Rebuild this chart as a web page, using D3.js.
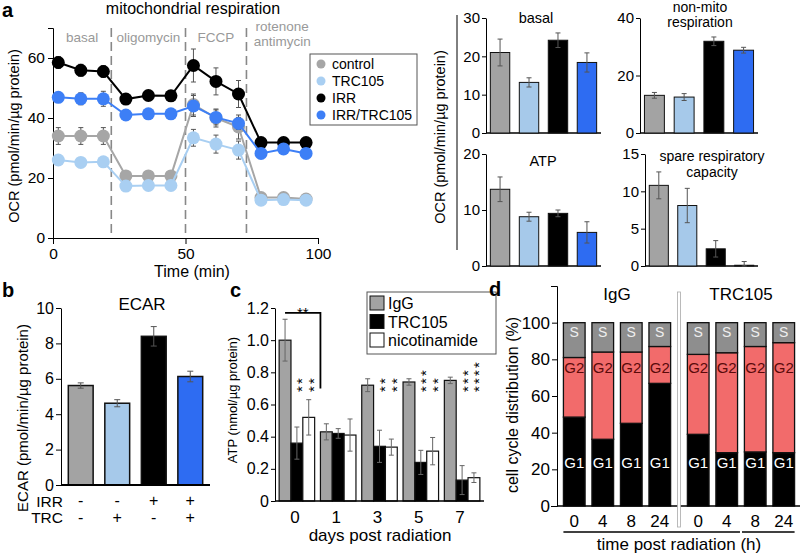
<!DOCTYPE html>
<html><head><meta charset="utf-8">
<script src="https://cdn.jsdelivr.net/npm/d3@7"></script>
<style>body{margin:0;background:#fff} text{font-family:"Liberation Sans",Arial,sans-serif}</style>
</head><body><svg id="c" width="800" height="555"></svg>
<script>
// ---------- DATA ----------
// panel a (time course)
const times = [2,10.5,19,27.5,36,44.5,53,61.5,70,78.5,87,95.5];
const seriesNames = ["control","TRC105","IRR","IRR/TRC105"];
const ocrControl = [34,34,34,20.7,20.7,20.7,44.5,40,37,13.5,13.5,13];
const ocrControlErr = [2.8,2.8,2.8,1.2,1.2,1.2,3.5,3,4,1,1,1];
const ocrTRC = [26,25.2,25.4,17.3,17.5,17.5,33.4,31.3,29.3,12.6,12.8,12.6];
const ocrTRCErr = [1.5,1,1,1,1,1,2.8,3,3,1,1,1];
const ocrIRR = [58.5,55.9,55.5,46.3,47.5,47.4,57.5,52.2,48,31.8,31.8,31.8];
const ocrIRRErr = [2,2,2,1.5,1,1.5,5.5,4.5,4.5,1,1,1];
const ocrIRRTRC = [46.9,46.4,46.4,41,41.4,41.4,44,40.2,38.2,28.2,29.7,28.2];
const ocrIRRTRCErr = [1.5,2,2.5,1,1,1,3.5,2.5,2,1,1,1];
const phaseBounds = [22,50,73];
const phaseLabels = [["basal"],["oligomycin"],["FCCP"],["rotenone","antimycin"]];
const timeTicks = [0,50,100];
const ocrTicks = [0,20,40,60];
// panel a (summary bars)
const basal = [21.0,13.2,24.2,18.4], basalErr = [3.5,1.2,1.9,2.5];
const nonMito = [13.1,12.5,31.9,28.8], nonMitoErr = [1,1.2,1.5,1];
const atpOcr = [13.7,8.8,9.4,6.0], atpOcrErr = [2.2,0.8,0.6,1.9];
const spare = [10.8,8.1,2.3,0.1], spareErr = [1.8,2.3,1.1,0.5];
// panel b
const ecar = [5.62,4.62,8.4,6.13], ecarErr = [0.15,0.2,0.55,0.3];
const irrSigns = ["-","-","+","+"], trcSigns = ["-","+","-","+"];
// panel c
const days = ["0","1","3","5","7"];
const cGroups = ["IgG","TRC105","nicotinamide"];
const atpIgG = [1.0,0.43,0.72,0.74,0.75], atpIgGErr = [0.13,0.05,0.04,0.02,0.02];
const atpTRC = [0.36,0.42,0.34,0.24,0.13], atpTRCErr = [0.1,0.03,0.1,0.075,0.09];
const atpNic = [0.52,0.41,0.335,0.31,0.145], atpNicErr = [0.11,0.1,0.05,0.085,0.03];
const starsTRC = ["**","","**","***","***"], starsNic = ["**","","**","**","****"];
const atpTicks = [0,0.2,0.4,0.6,0.8,1.0,1.2];
// panel d
const dGroups = ["IgG","TRC105"];
const hours = ["0","4","8","24"];
const g1IgG = [48.5,36.4,45.1,66.9], g2IgG = [32.5,47.6,38.9,20.1], sIgG = [19,16,16,13];
const g1TRC = [39.1,29.1,29.5,29.1], g2TRC = [43.6,54.5,57.5,60], sTRC = [17.3,16.4,13,10.9];
const pctTicks = [0,20,40,60,80,100];

// ---------- HELPERS ----------
const svg = d3.select("#c");
svg.append("rect").attr("width",800).attr("height",555).attr("fill","#fff");
const FONT = '"Liberation Sans", Arial, sans-serif';
function txt(g,x,y,s,size,o={}){
  const t=g.append("text").attr("x",x).attr("y",y).text(s).attr("font-size",size)
    .attr("fill",o.fill||"#000").attr("text-anchor",o.anchor||"middle");
  if(o.bold) t.attr("font-weight","bold");
  if(o.rotate) t.attr("transform",`rotate(-90,${x},${y})`);
  return t;
}
function styleAxis(g,size){
  g.attr("font-family",FONT);
  g.selectAll("text").attr("font-size",size).attr("fill","#000");
  g.selectAll("path,line").attr("stroke","#000");
}
function errBar(g,x,y1,y2,w,color="#555"){
  g.append("line").attr("x1",x).attr("x2",x).attr("y1",y1).attr("y2",y2).attr("stroke",color);
  g.append("line").attr("x1",x-w/2).attr("x2",x+w/2).attr("y1",y1).attr("y2",y1).attr("stroke",color);
  g.append("line").attr("x1",x-w/2).attr("x2",x+w/2).attr("y1",y2).attr("y2",y2).attr("stroke",color);
}
const lineColors = ["#a6a6a6","#a9cff2","#000000","#3d7ff6"];
const barColors = ["#a3a3a3","#a6c9ea","#000000","#2e6cf2"];

// ---------- PANEL a : time course ----------
const gA = svg.append("g");
txt(gA,2,17,"a",20,{bold:true,anchor:"start"});
txt(gA,193,14,"mitochondrial respiration",16);
const xA = d3.scaleLinear().domain([0,100]).range([53,318]);
const yA = d3.scaleLinear().domain([0,70]).range([238,28]);
gA.append("g").attr("transform","translate(0,238)")
  .call(d3.axisBottom(xA).tickValues(timeTicks).tickSizeOuter(0).tickPadding(4)).call(styleAxis,15.5);
gA.append("g").attr("transform","translate(53,0)")
  .call(d3.axisLeft(yA).tickValues(ocrTicks).tickSize(5).tickPadding(3)).call(styleAxis,15.5);
txt(gA,192,277,"Time (min)",16);
txt(gA,19,136,"OCR (pmol/min/µg protein)",14.5,{rotate:true});
phaseBounds.forEach(b=>{
  gA.append("line").attr("x1",xA(b)).attr("x2",xA(b)).attr("y1",yA(70)).attr("y2",yA(0))
    .attr("stroke","#888").attr("stroke-width",1.6).attr("stroke-dasharray","9,5");
});
const edges=[0,...phaseBounds,100];
phaseLabels.forEach((lines,i)=>{
  const cx=xA((edges[i]+edges[i+1])/2);
  if(lines.length===1) txt(gA,cx,42,lines[0],13.5,{fill:"#999"});
  else { txt(gA,cx,31,lines[0],13.5,{fill:"#999"}); txt(gA,cx,46,lines[1],13.5,{fill:"#999"}); }
});
const seriesVals=[ocrControl,ocrTRC,ocrIRR,ocrIRRTRC];
const seriesErrs=[ocrControlErr,ocrTRCErr,ocrIRRErr,ocrIRRTRCErr];
const lineGen=d3.line().x((d,i)=>xA(times[i])).y(d=>yA(d));
seriesVals.forEach((vals,s)=>{
  const g=gA.append("g");
  vals.forEach((v,i)=>errBar(g,xA(times[i]),yA(v+seriesErrs[s][i]),yA(v-seriesErrs[s][i]),5,"#555"));
  g.append("path").attr("d",lineGen(vals)).attr("fill","none").attr("stroke",lineColors[s]).attr("stroke-width",2);
  g.selectAll("circle").data(vals).join("circle").attr("cx",(d,i)=>xA(times[i])).attr("cy",d=>yA(d))
    .attr("r",6.5).attr("fill",lineColors[s]);
});
// legend
const lgA=gA.append("g");
lgA.append("rect").attr("x",310).attr("y",54).attr("width",107).attr("height",71).attr("fill","#fff").attr("stroke","#555");
seriesNames.forEach((n,i)=>{
  const y=64+i*17;
  lgA.append("circle").attr("cx",321).attr("cy",y).attr("r",4.5).attr("fill",lineColors[i]);
  txt(lgA,332,y+5,n,14,{anchor:"start"});
});

// ---------- PANEL a : summary bars ----------
const gR=svg.append("g");
txt(gR,445,137,"OCR (pmol/min/µg protein)",14.5,{rotate:true});
gR.append("line").attr("x1",457).attr("x2",457).attr("y1",15).attr("y2",250).attr("stroke","#000");
function smallBar(vals,errs,x0,x1,y0,y1,ymax,ticks,titles,titleX,titleYs){
  const g=gR.append("g");
  const x=d3.scaleBand().domain(seriesNames).range([x0,x1]).paddingInner(0.33).paddingOuter(0.15);
  const y=d3.scaleLinear().domain([0,ymax]).range([y0,y1]);
  g.append("g").attr("transform",`translate(${x0},0)`)
    .call(d3.axisLeft(y).tickValues(ticks).tickSize(4).tickSizeOuter(0).tickPadding(2)).call(styleAxis,15);
  g.append("line").attr("x1",x0).attr("x2",x1).attr("y1",y0).attr("y2",y0).attr("stroke","#000").attr("stroke-width",1.3);
  seriesNames.forEach((n,i)=>{
    g.append("rect").attr("x",x(n)).attr("y",y(vals[i])).attr("width",x.bandwidth()).attr("height",y0-y(vals[i]))
      .attr("fill",barColors[i]).attr("stroke","#111").attr("stroke-width",1);
    errBar(g,x(n)+x.bandwidth()/2,y(vals[i]+errs[i]),y(Math.max(0,vals[i]-errs[i])),5,"#555");
  });
  titles.forEach((t,k)=>txt(g,titleX,titleYs[k],t,titles.length>1?14:14.5));
}
smallBar(basal,basalErr,486,601,133,18,30,[0,10,20,30],["basal"],536,[23]);
smallBar(nonMito,nonMitoErr,640,758,133,18,40,[0,20,40],["non-mito","respiration"],700,[12,27]);
smallBar(atpOcr,atpOcrErr,486,601,266,154,20,[0,10,20],["ATP"],543,[166]);
smallBar(spare,spareErr,645,758,266,154,15,[0,5,10,15],["spare respiratory","capacity"],712,[161,177]);

// ---------- PANEL b ----------
const gB=svg.append("g");
txt(gB,2,297,"b",20,{bold:true,anchor:"start"});
txt(gB,142,310,"ECAR",17);
txt(gB,28,418,"ECAR (pmol/min/µg protein)",15,{rotate:true});
const xB=d3.scaleBand().domain(seriesNames).range([61,210]).paddingInner(0.32).paddingOuter(0.2);
const yB=d3.scaleLinear().domain([0,10]).range([485,308]);
gB.append("g").attr("transform","translate(61,0)")
  .call(d3.axisLeft(yB).tickValues([0,2,4,6,8,10]).tickSize(5).tickSizeOuter(0).tickPadding(2)).call(styleAxis,16);
seriesNames.forEach((n,i)=>{
  gB.append("rect").attr("x",xB(n)).attr("y",yB(ecar[i])).attr("width",xB.bandwidth()).attr("height",485-yB(ecar[i]))
    .attr("fill",barColors[i]).attr("stroke","#111").attr("stroke-width",1.5);
  errBar(gB,xB(n)+xB.bandwidth()/2,yB(ecar[i]+ecarErr[i]),yB(ecar[i]-ecarErr[i]),6,"#555");
  txt(gB,xB(n)+xB.bandwidth()/2,506,irrSigns[i],16);
  txt(gB,xB(n)+xB.bandwidth()/2,523,trcSigns[i],16);
});
gB.append("line").attr("x1",61).attr("x2",210).attr("y1",485).attr("y2",485).attr("stroke","#000").attr("stroke-width",2);
txt(gB,63,507,"IRR",15.5,{anchor:"end"});
txt(gB,63,523,"TRC",15.5,{anchor:"end"});

// ---------- PANEL c ----------
const gC=svg.append("g");
txt(gC,230,297,"c",20,{bold:true,anchor:"start"});
const xC=d3.scaleBand().domain(days).range([275,484]).paddingInner(0.14).paddingOuter(0.1);
const xCi=d3.scaleBand().domain(cGroups).range([0,xC.bandwidth()]);
const yC=d3.scaleLinear().domain([0,1.2]).range([501,308]);
gC.append("g").attr("transform","translate(275,0)")
  .call(d3.axisLeft(yC).tickValues(atpTicks).tickFormat(d=>d===0?"0":d3.format(".1f")(d)).tickSize(4).tickSizeOuter(0).tickPadding(2))
  .call(styleAxis,16);
txt(gC,237,400,"ATP (nmol/µg protein)",13,{rotate:true});
const cVals=[atpIgG,atpTRC,atpNic], cErrs=[atpIgGErr,atpTRCErr,atpNicErr];
const cFill=["#a3a3a3","#000","#fff"];
days.forEach((d,i)=>{
  cGroups.forEach((grp,k)=>{
    const v=cVals[k][i], x=xC(d)+xCi(grp);
    gC.append("rect").attr("x",x).attr("y",yC(v)).attr("width",xCi.bandwidth()).attr("height",501-yC(v))
      .attr("fill",cFill[k]).attr("stroke","#111").attr("stroke-width",1.2);
    errBar(gC,x+xCi.bandwidth()/2,yC(v+cErrs[k][i]),yC(v-cErrs[k][i]),5,"#666");
  });
  txt(gC,xC(d)+xC.bandwidth()/2-2,523,d,17);
  [[starsTRC,"TRC105"],[starsNic,"nicotinamide"]].forEach(([arr,grp])=>{
    const s=arr[i]; if(!s) return;
    const cx=xC(d)+xCi(grp)+xCi.bandwidth()/2+2;
    // vertical column of stars, bottom-aligned
    gC.append("text").attr("transform",`translate(${cx+8.5},392) rotate(-90)`)
      .attr("text-anchor","start").attr("font-size",15).attr("fill","#000").attr("opacity",0.99)
      .attr("letter-spacing",2.2).text(s);
  });
});
gC.append("line").attr("x1",275).attr("x2",484).attr("y1",501).attr("y2",501).attr("stroke","#000").attr("stroke-width",1.5);
txt(gC,380,541,"days post radiation",17);
// bracket
const bx0=xC("0")+xCi("IgG")+xCi.bandwidth()/2, bx1=xC("1");
gC.append("path").attr("d",`M${bx0},${yC(1.17)}H${bx1}V${yC(0.7)}`).attr("fill","none").attr("stroke","#000").attr("stroke-width",1.8);
txt(gC,(bx0+bx1)/2,318,"**",15);
// legend c
const lgC=gC.append("g");
lgC.append("rect").attr("x",367).attr("y",292).attr("width",129).attr("height",62).attr("fill","#fff").attr("stroke","#555");
cGroups.forEach((n,i)=>{
  const y=303+i*18.5;
  lgC.append("rect").attr("x",370).attr("y",y-7).attr("width",14).attr("height",14).attr("fill",cFill[i]).attr("stroke","#111");
  txt(lgC,388,y+6,n,16,{anchor:"start"});
});

// ---------- PANEL d ----------
const gD=svg.append("g");
txt(gD,489,296,"d",20,{bold:true,anchor:"start"});
const xD=d3.scaleBand().domain(dGroups).range([560,798]).paddingInner(0.08).paddingOuter(0);
const xDi=d3.scaleBand().domain(hours).range([0,xD.bandwidth()]).paddingInner(0.24).paddingOuter(0.12);
const yD=d3.scaleLinear().domain([0,120]).range([506,286]);
gD.append("g").attr("transform","translate(557,0)")
  .call(d3.axisLeft(yD).tickValues(pctTicks).tickSize(5).tickSizeOuter(6).tickPadding(2)).call(styleAxis,17);
txt(gD,518,405,"cell cycle distribution (%)",16,{rotate:true});
const dData={IgG:[g1IgG,g2IgG,sIgG],TRC105:[g1TRC,g2TRC,sTRC]};
const segFill=["#000","#f26b6b","#8e8e8e"];
dGroups.forEach(grp=>{
  const [g1,g2,s]=dData[grp];
  hours.forEach((h,i)=>{
    const x=xD(grp)+xDi(h), w=xDi.bandwidth();
    let base=0;
    [g1[i],g2[i],s[i]].forEach((v,k)=>{
      gD.append("rect").attr("x",x).attr("y",yD(base+v)).attr("width",w).attr("height",yD(base)-yD(base+v))
        .attr("fill",segFill[k]).attr("stroke","#111").attr("stroke-width",1.3);
      base+=v;
    });
    txt(gD,x+w/2,yD(24)+6,"G1",15,{fill:"#fff"});
    txt(gD,x+w/2,yD(76)+6,"G2",15,{fill:"#5a0a0a"});
    txt(gD,x+w/2,yD(95)+5,"S",14,{fill:"#eee"});
    txt(gD,x+w/2,527,h,17);
  });
  txt(gD,xD(grp)+xD.bandwidth()/2,300,grp,17);
});
gD.append("line").attr("x1",557).attr("x2",800).attr("y1",506).attr("y2",506).attr("stroke","#000").attr("stroke-width",1.3);
const sepX=(xD("IgG")+xD.bandwidth()+xD("TRC105"))/2;
gD.append("rect").attr("x",sepX-1.5).attr("y",292).attr("width",3).attr("height",235).attr("fill","#fff").attr("stroke","#aaa").attr("stroke-width",0.8);
const firstX=xD("IgG")+xDi("0");
const midX=(xD("TRC105")+xDi("4")+xDi.bandwidth()+xD("TRC105")+xDi("8"))/2;
const lastX=xD("TRC105")+xDi("24")+xDi.bandwidth();
gD.append("line").attr("x1",firstX).attr("x2",midX-1).attr("y1",532).attr("y2",532).attr("stroke","#000").attr("stroke-width",1.3);
gD.append("line").attr("x1",midX+1).attr("x2",lastX).attr("y1",532).attr("y2",532).attr("stroke","#000").attr("stroke-width",1.3);
txt(gD,(firstX+lastX)/2,550,"time post radiation (h)",17);
</script></body></html>
